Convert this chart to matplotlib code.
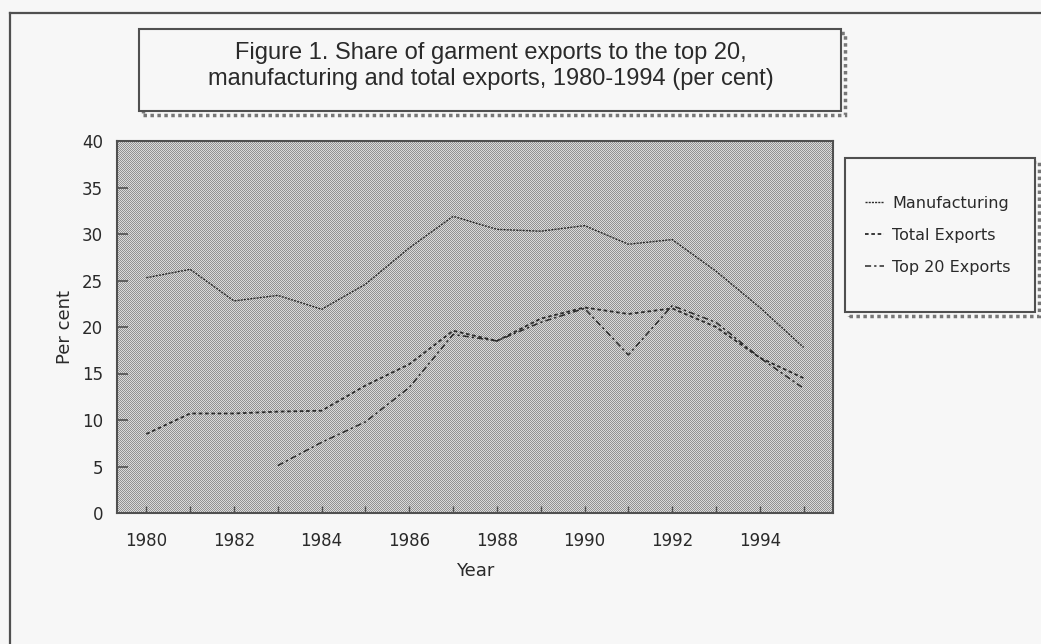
import numpy as np
import matplotlib
matplotlib.use('agg')
import matplotlib.pyplot as plt
from matplotlib.patches import Rectangle
from matplotlib.lines import Line2D

years = list(range(1980, 1996))
manufacturing = [25.3, 26.2, 22.8, 23.4, 21.9, 24.6, 28.5, 31.9,
                 30.5, 30.3, 30.9, 28.9, 29.4, 26.0, 22.1, 17.8]
total_exports = [8.5, 10.7, 10.7, 10.9, 11.0, 13.7, 16.0, 19.6,
                 18.5, 20.9, 22.1, 21.4, 22.0, 20.0, 16.7, 14.5]
top20_exports = [np.nan, np.nan, np.nan, 5.1, 7.6, 9.8, 13.5, 19.2,
                 18.5, 20.5, 22.0, 17.0, 22.3, 20.5, 16.7, 13.4]
year_labels = ['1980', '1982', '1984', '1986', '1988', '1990', '1992', '1994']
title = ('Figure 1. Share of garment exports to the top 20,\n'
         'manufacturing and total exports, 1980-1994 (per cent)')

W, H = 1041, 644
DARK = '#2a2a2a'
EDGE = '#505050'
BG = '#f7f7f7'

def fx(px):
    return px / W

def fy(py):
    return (H - py) / H

fig = plt.figure(figsize=(W / 100, H / 100), dpi=100)
fig.patch.set_facecolor(BG)

# outer frame (top + left only, like the scan)
fig.add_artist(Line2D([fx(10), 1.0], [fy(13), fy(13)], color=EDGE, lw=1.6))
fig.add_artist(Line2D([fx(10), fx(10)], [fy(13), 0.0], color=EDGE, lw=1.6))

def shadow_box(x0, y0, x1, y1):
    fig.add_artist(Rectangle((fx(x0 + 4), fy(y1 + 4)), fx(x1 - x0), (y1 - y0) / H,
                             facecolor='none', edgecolor='#777777', lw=2.5, ls=(0, (1, 1))))
    fig.add_artist(Rectangle((fx(x0), fy(y1)), fx(x1 - x0), (y1 - y0) / H,
                             facecolor=BG, edgecolor=EDGE, lw=1.5))

# title box
shadow_box(139, 29, 841, 111)
fig.text(fx(491), fy(66), title, ha='center', va='center', fontsize=17,
         family='Liberation Sans', color=DARK, linespacing=1.28)

# plot area
left, right, top, bottom = 117, 833, 141, 513
ax = fig.add_axes([fx(left), fy(bottom), fx(right - left), (bottom - top) / H])
ax.set_zorder(2)
ax.patch.set_alpha(0)
x0, x1 = 1979.33, 1995.67
ax.set_xlim(x0, x1)
ax.set_ylim(0, 40)

# dithered grey background, pixel exact
checker = np.indices((bottom - top, right - left)).sum(axis=0) % 2
rgb = np.where(checker[..., None] == 1, 0.86, 0.58) * np.ones(3)
fig.figimage(rgb, xo=left, yo=H - bottom, zorder=1)

ax.plot(years, manufacturing, color=DARK, lw=1.0, ls=(0, (1.5, 0.8)), label='Manufacturing')
ax.plot(years, total_exports, color=DARK, lw=1.3, ls=(0, (2, 1.5)), label='Total Exports')
ax.plot(years, top20_exports, color=DARK, lw=1.1, ls=(0, (4, 2, 1.5, 2)), label='Top 20 Exports')

ax.set_xticks(years)
ax.set_xticklabels([str(y) if str(y) in year_labels else '' for y in years])
ax.set_yticks(range(0, 41, 5))
ax.tick_params(axis='y', direction='in', length=8, width=1.2, color=EDGE, pad=10,
               labelsize=12, labelcolor=DARK)
ax.tick_params(axis='x', direction='in', length=5, width=1.0, color=EDGE, pad=14,
               labelsize=12, labelcolor=DARK)
for s in ax.spines.values():
    s.set_color(EDGE)
    s.set_linewidth(1.5)

ax.set_xlabel('Year', fontsize=13, color=DARK, labelpad=8)
ax.set_ylabel('Per cent', fontsize=13, color=DARK, labelpad=6)

# legend box
shadow_box(845, 158, 1035, 312)
handles, labels = ax.get_legend_handles_labels()
fig.legend(handles, labels, loc='upper left', bbox_to_anchor=(fx(865), fy(196)),
           frameon=False, fontsize=11.5, handlelength=1.2, handletextpad=0.5,
           labelspacing=1.05, borderaxespad=0, borderpad=0, labelcolor=DARK)

fig.savefig('out.png', dpi=100, facecolor=fig.get_facecolor())
